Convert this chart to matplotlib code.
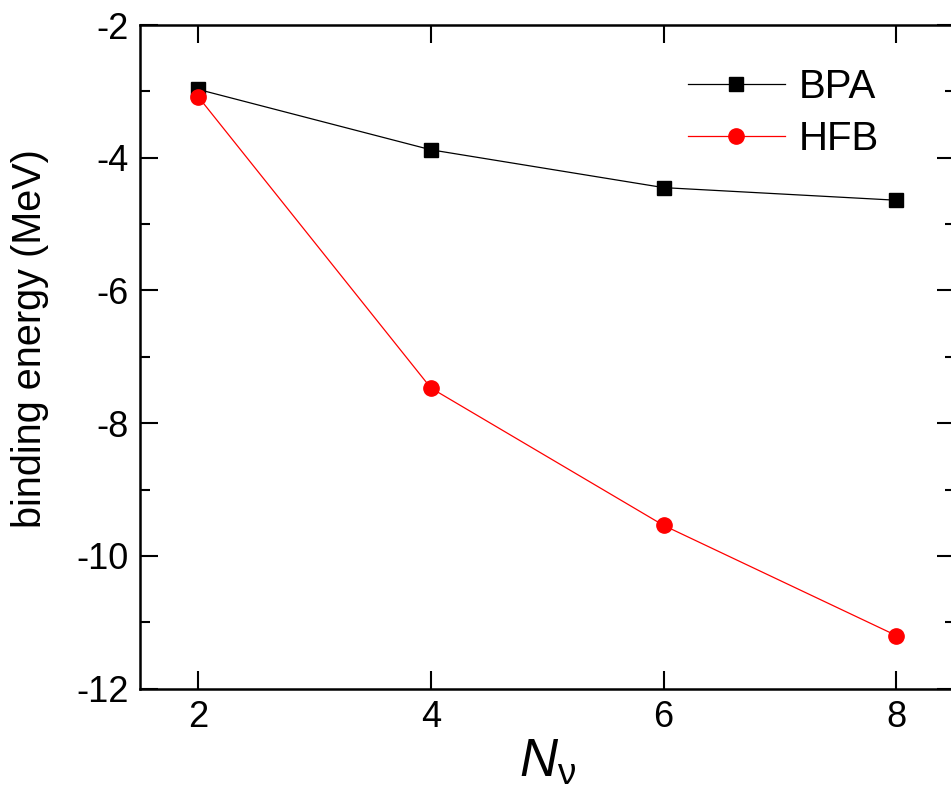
import numpy as np
import matplotlib
matplotlib.use("Agg")
import matplotlib.pyplot as plt
from matplotlib.ticker import MultipleLocator

plt.rcParams['font.family'] = ['Liberation Sans', 'DejaVu Sans']
plt.rcParams['axes.unicode_minus'] = False
plt.rcParams['mathtext.fontset'] = 'custom'
plt.rcParams['mathtext.it'] = 'Liberation Sans:italic'
plt.rcParams['mathtext.rm'] = 'Liberation Sans'

# data
n_nu = [2, 4, 6, 8]
bpa = [-2.97, -3.88, -4.45, -4.64]
hfb = [-3.08, -7.47, -9.54, -11.20]

fig = plt.figure(figsize=(9.51, 7.97), dpi=100)
ax = fig.add_axes([0.1472, 0.1359, 0.8566, 0.8327])

ax.plot(n_nu, bpa, color='black', lw=0.9, marker='s', ms=9.5, label='BPA')
ax.plot(n_nu, hfb, color='red', lw=0.9, marker='o', ms=11, label='HFB')

ax.set_xlim(1.5, 8.5)
ax.set_ylim(-12, -2)
ax.set_xticks([2, 4, 6, 8])
ax.yaxis.set_major_locator(MultipleLocator(2))
ax.yaxis.set_minor_locator(MultipleLocator(1))

ax.tick_params(which='both', direction='in', top=True, right=True, width=1.5,
               labelsize=26, pad=8)
ax.tick_params(which='major', length=13)
ax.tick_params(which='minor', length=7)
for s in ax.spines.values():
    s.set_linewidth(1.8)

ax.set_ylabel('binding energy (MeV)', fontsize=28.5)
ax.yaxis.set_label_coords(-0.112, 0.528)
ax.set_xlabel(r'$N_{\mathrm{\nu}}$', fontsize=38, labelpad=2)

ax.legend(loc='upper left', bbox_to_anchor=(0.653, 0.96), frameon=False,
          fontsize=29, handlelength=2.4, handletextpad=0.35, labelspacing=0.35,
          borderaxespad=0)

fig.savefig('out.png', dpi=100)
